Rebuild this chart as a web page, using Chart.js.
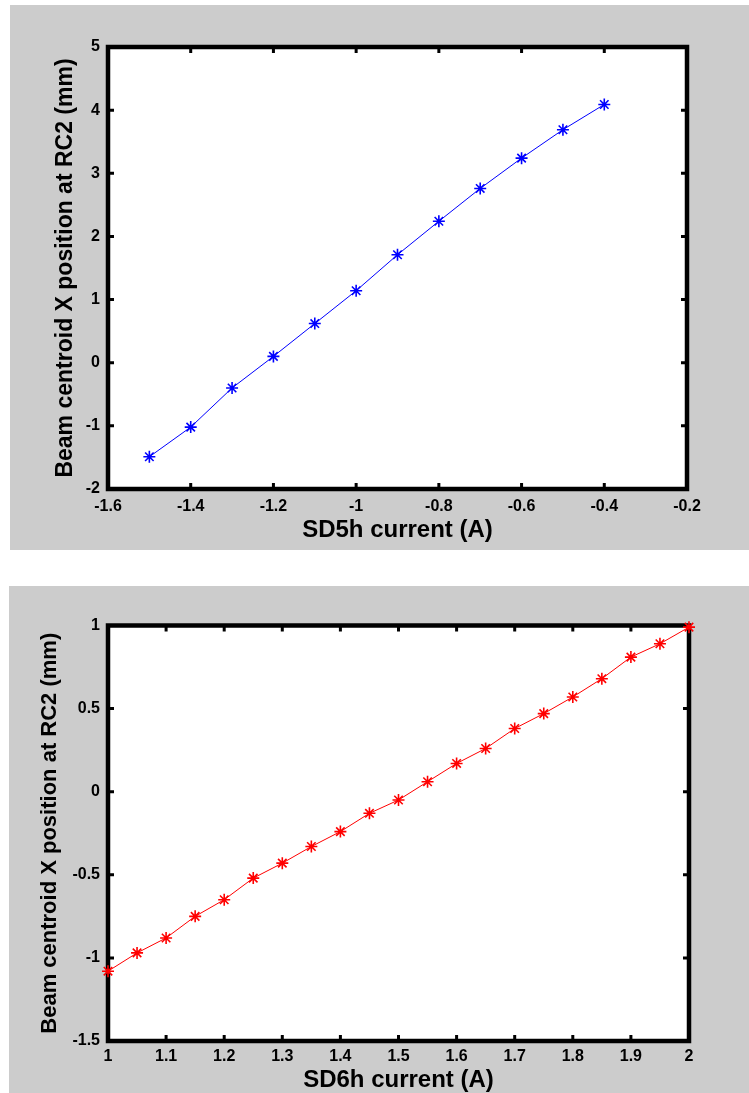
<!DOCTYPE html>
<html>
<head>
<meta charset="utf-8">
<title>Beam centroid vs sextupole current</title>
<script src="https://cdn.jsdelivr.net/npm/chart.js@4/dist/chart.umd.min.js"></script>
<style>
  html, body { margin: 0; padding: 0; background: #ffffff; }
  .panel { position: absolute; background: #cccccc; }
  #panelTop { left: 10px; top: 5px; width: 739px; height: 545px; }
  #panelBottom { left: 9px; top: 586px; width: 740px; height: 507px; }
  canvas { display: block; }
</style>
</head>
<body>
<div class="panel" id="panelTop"><canvas id="sd5Chart" width="739" height="545"></canvas></div>
<div class="panel" id="panelBottom"><canvas id="sd6Chart" width="740" height="507"></canvas></div>
<script>
// SD5h scan
const sd5Current = [-1.5, -1.4, -1.3, -1.2, -1.1, -1.0, -0.9, -0.8, -0.7, -0.6, -0.5, -0.4];
const sd5Position = [-1.49, -1.02, -0.40, 0.10, 0.62, 1.14, 1.71, 2.24, 2.76, 3.24, 3.69, 4.09];
const sd5XTicks = [-1.6, -1.4, -1.2, -1, -0.8, -0.6, -0.4, -0.2];
const sd5YTicks = [-2, -1, 0, 1, 2, 3, 4, 5];

// SD6h scan
const sd6Current = [1.0, 1.05, 1.1, 1.15, 1.2, 1.25, 1.3, 1.35, 1.4, 1.45, 1.5,
                    1.55, 1.6, 1.65, 1.7, 1.75, 1.8, 1.85, 1.9, 1.95, 2.0];
const sd6Position = [-1.08, -0.97, -0.88, -0.75, -0.65, -0.52, -0.43, -0.33, -0.24, -0.13, -0.05,
                     0.06, 0.17, 0.26, 0.38, 0.47, 0.57, 0.68, 0.81, 0.89, 0.99];
const sd6XTicks = [1, 1.1, 1.2, 1.3, 1.4, 1.5, 1.6, 1.7, 1.8, 1.9, 2];
const sd6YTicks = [-1.5, -1, -0.5, 0, 0.5, 1];

const yTitle = 'Beam centroid X position at RC2 (mm)';

// white plot box with thick black frame and inward tick marks on all sides
const boxPlugin = {
    id: 'matlabBox',
    beforeDatasetsDraw(chart) {
        const { ctx, chartArea: a, scales } = chart;
        ctx.save();
        ctx.strokeStyle = '#000';
        ctx.lineWidth = 3;
        scales.x.ticks.forEach(t => {
            const px = scales.x.getPixelForValue(t.value);
            ctx.beginPath();
            ctx.moveTo(px, a.bottom); ctx.lineTo(px, a.bottom - 6);
            ctx.moveTo(px, a.top); ctx.lineTo(px, a.top + 6);
            ctx.stroke();
        });
        scales.y.ticks.forEach(t => {
            const py = scales.y.getPixelForValue(t.value);
            ctx.beginPath();
            ctx.moveTo(a.left, py); ctx.lineTo(a.left + 6, py);
            ctx.moveTo(a.right, py); ctx.lineTo(a.right - 6, py);
            ctx.stroke();
        });
        ctx.lineWidth = 4.5;
        ctx.strokeRect(a.left, a.top, a.right - a.left, a.bottom - a.top);
        ctx.restore();
    },
    beforeDraw(chart) {
        const { ctx, chartArea: a } = chart;
        ctx.save();
        ctx.fillStyle = '#ffffff';
        ctx.fillRect(a.left, a.top, a.right - a.left, a.bottom - a.top);
        ctx.restore();
    }
};

function makeChart(id, xs, ys, color, xTicks, yTicks, cfg) {
    const points = xs.map((x, i) => ({ x: x, y: ys[i] }));
    const tickFont = { family: 'Liberation Sans, Arial, sans-serif', size: 16, weight: 'bold' };
    return new Chart(document.getElementById(id), {
        type: 'line',
        data: {
            datasets: [{
                data: points,
                borderColor: color,
                borderWidth: 1,
                pointStyle: 'star',
                pointRadius: 6,
                pointBorderWidth: 1.6,
                pointBorderColor: color,
                pointBackgroundColor: color,
                tension: 0,
                clip: false
            }]
        },
        options: {
            responsive: false,
            animation: false,
            layout: { padding: { left: 0, top: cfg.padTop, right: cfg.padRight, bottom: 0 } },
            plugins: { legend: { display: false }, tooltip: { enabled: false } },
            scales: {
                x: {
                    type: 'linear',
                    min: xTicks[0],
                    max: xTicks[xTicks.length - 1],
                    afterBuildTicks: s => { s.ticks = xTicks.map(v => ({ value: v })); },
                    afterFit: s => { s.height = cfg.xHeight; },
                    grid: { display: false, drawTicks: false },
                    border: { display: false },
                    ticks: {
                        color: '#000', font: tickFont, padding: cfg.xTickPad,
                        autoSkip: false, maxRotation: 0,
                        callback: v => String(v)
                    },
                    title: {
                        display: true,
                        text: cfg.xTitle,
                        color: '#000',
                        font: { family: 'Liberation Sans, Arial, sans-serif', size: 24, weight: 'bold', lineHeight: 1 },
                        padding: { top: 0, bottom: cfg.xTitlePad }
                    }
                },
                y: {
                    type: 'linear',
                    min: yTicks[0],
                    max: yTicks[yTicks.length - 1],
                    afterBuildTicks: s => { s.ticks = yTicks.map(v => ({ value: v })); },
                    afterFit: s => { s.width = cfg.yWidth; },
                    grid: { display: false, drawTicks: false },
                    border: { display: false },
                    ticks: {
                        color: '#000', font: tickFont, padding: 8,
                        autoSkip: false,
                        callback: v => String(v)
                    },
                    title: {
                        display: true,
                        text: yTitle,
                        color: '#000',
                        font: { family: 'Liberation Sans, Arial, sans-serif', size: cfg.yTitleSize, weight: 'bold', lineHeight: 1 },
                        padding: { top: cfg.yTitlePad, bottom: 0 }
                    }
                }
            }
        },
        plugins: [boxPlugin]
    });
}

makeChart('sd5Chart', sd5Current, sd5Position, '#0000ff', sd5XTicks, sd5YTicks, {
    padTop: 42, padRight: 62, xHeight: 61, yWidth: 98,
    xTickPad: 8, xTitlePad: 8, yTitlePad: 44, yTitleSize: 23,
    xTitle: 'SD5h current (A)'
});

makeChart('sd6Chart', sd6Current, sd6Position, '#ff0000', sd6XTicks, sd6YTicks, {
    padTop: 39.5, padRight: 60, xHeight: 52, yWidth: 99,
    xTickPad: 6, xTitlePad: 1, yTitlePad: 30, yTitleSize: 22,
    xTitle: 'SD6h current (A)'
});
</script>
</body>
</html>
